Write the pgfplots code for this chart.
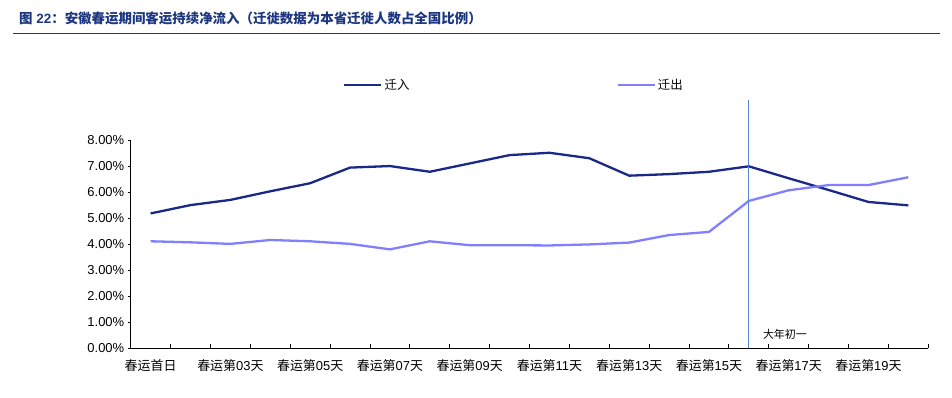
\documentclass[border=0pt]{standalone}
\usepackage{pgfplots}
\usepackage{pgfplotstable}
\pgfplotsset{compat=1.18}
\usepackage{fontspec}
\setmainfont{Liberation Sans}
\newfontfamily\cjk{Noto Sans CJK SC}
\definecolor{inC}{RGB}{26,40,136}
\definecolor{outC}{RGB}{128,128,255}
\definecolor{vC}{RGB}{84,134,212}
\definecolor{titleC}{RGB}{28,54,128}
\newcommand{\dl}[1]{{\cjk 春运第}#1{\cjk 天}}
\pgfplotstableread{
x in out
0 5.18 4.11
1 5.50 4.07
2 5.70 4.01
3 6.03 4.16
4 6.34 4.11
5 6.94 4.01
6 7.00 3.80
7 6.78 4.11
8 7.10 3.96
9 7.42 3.96
10 7.51 3.95
11 7.30 3.99
12 6.63 4.06
13 6.69 4.35
14 6.78 4.47
15 6.99 5.66
16 6.53 6.07
17 6.08 6.27
18 5.62 6.27
19 5.49 6.57
}\data
\begin{document}
\begin{tikzpicture}
\path[use as bounding box] (0bp,0bp) rectangle (952bp,398bp);
\node[anchor=west, inner sep=0pt, text=titleC] at (19bp,380bp) {\fontsize{13.5}{15}\selectfont\bfseries{\cjk 图} 22{\cjk ：安徽春运期间客运持续净流入（迁徙数据为本省迁徙人数占全国比例）}};
\draw[titleC, line width=1.5bp] (13bp,364.5bp) -- (940bp,364.5bp);
\begin{axis}[
  at={(130.7bp,49.7bp)}, anchor=south west,
  scale only axis, width=797.6bp, height=208.3bp,
  xmin=-0.5, xmax=19.5, ymin=0, ymax=8,
  enlargelimits=false, clip=false,
  axis lines=left, axis line style={-, black, line width=0.9bp},
  tick align=inside,
  xtick={0,2,...,18},
  xticklabels={{\cjk 春运首日},\dl{03},\dl{05},\dl{07},\dl{09},\dl{11},\dl{13},\dl{15},\dl{17},\dl{19}},
  major x tick style={draw=none},
  minor xtick={-0.5,0.5,...,19.5},
  minor tick length=4bp,
  minor x tick style={black, line width=0.9bp},
  ytick={0,1,...,8},
  yticklabels={0.00\%,1.00\%,2.00\%,3.00\%,4.00\%,5.00\%,6.00\%,7.00\%,8.00\%},
  major tick length=3bp,
  major y tick style={black, xshift=-3bp, line width=0.8bp},
  tick label style={font=\fontsize{13}{15}\selectfont, text=black},
  x tick label style={yshift=-8bp},
  y tick label style={xshift=-3bp},
  legend style={at={(0.4806,1.264)}, anchor=center, draw=none, fill=none,
    legend columns=2, font=\cjk\fontsize{12.5}{14}\selectfont,
    /tikz/every even column/.append style={column sep=205bp}},
  legend image code/.code={\draw[#1] (0bp,0bp) -- (37bp,0bp);},
]
\addplot[inC, line width=2.3bp] table[x=x, y=in] {\data};
\addlegendentry{迁入}
\addplot[outC, line width=2.3bp] table[x=x, y=out] {\data};
\addlegendentry{迁出}
\addplot[vC, line width=1.1bp, forget plot] coordinates {(15,0) (15,9.53)};
\node[anchor=west, font=\cjk\fontsize{11}{13}\selectfont, inner sep=0pt] at (axis cs:15.35,0.55) {大年初一};
\end{axis}
\end{tikzpicture}
\end{document}
